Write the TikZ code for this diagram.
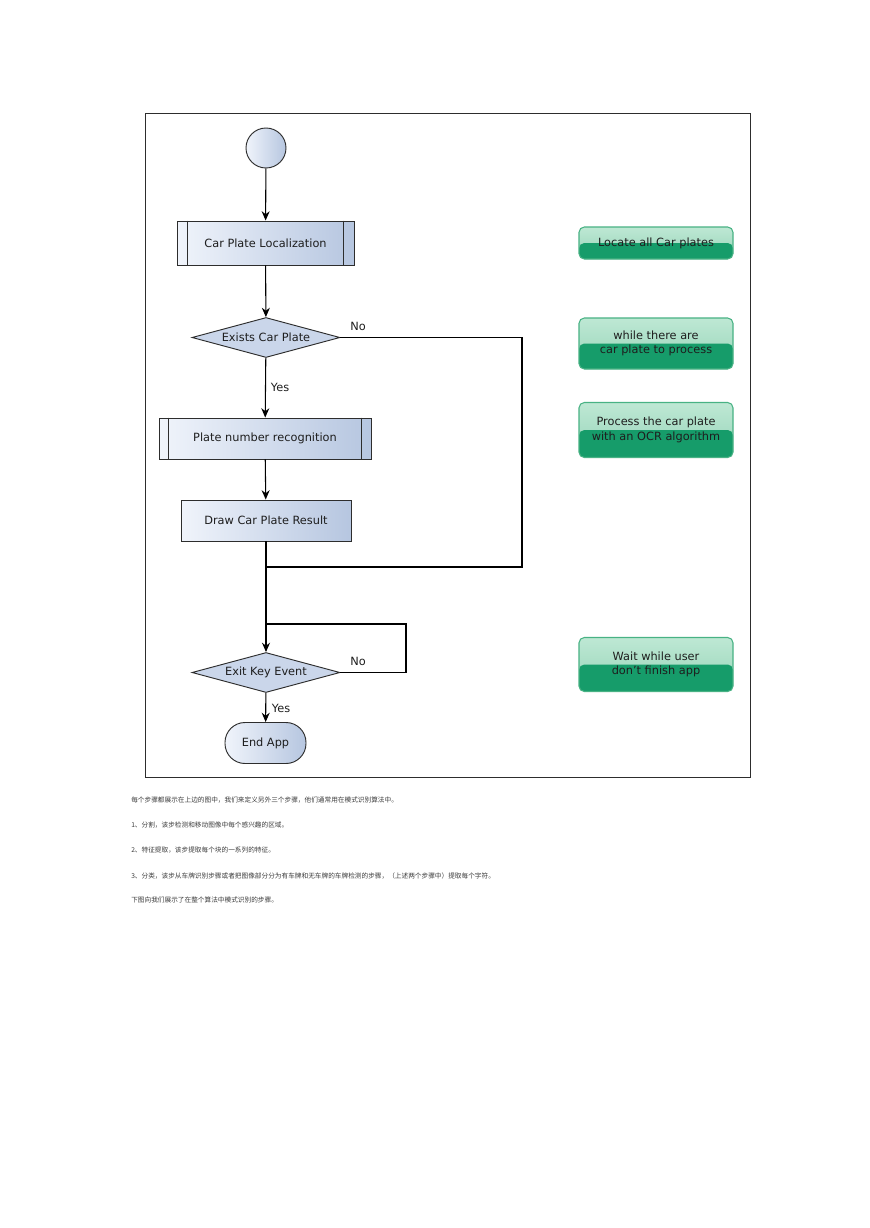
\documentclass[tikz,border=0pt]{standalone}
\usepackage{fontspec}
\setmainfont{DejaVu Sans}
\newfontfamily\cjk{Noto Sans CJK SC}
\usetikzlibrary{shapes.geometric,arrows.meta}
\definecolor{boxL}{RGB}{240,244,251}
\definecolor{boxR}{RGB}{182,198,224}
\definecolor{dia}{RGB}{202,214,234}
\definecolor{gTopL}{RGB}{190,232,212}
\definecolor{gTop}{RGB}{150,212,184}
\definecolor{gBot}{RGB}{22,156,106}
\definecolor{gBorder}{RGB}{72,178,132}
\definecolor{edge}{RGB}{45,45,45}
\definecolor{txt}{RGB}{30,30,30}
\definecolor{cjkgray}{RGB}{60,60,60}
\begin{document}
\begin{tikzpicture}[x=0.75pt,y=-0.75pt,
  lab/.style={font=\fontsize{8.5}{10}\selectfont, text=txt, inner sep=0pt},
  proc/.style={draw=edge, line width=0.7pt, left color=boxL, right color=boxR,
    inner sep=0pt, font=\fontsize{8.5}{10}\selectfont, text=txt},
  dec/.style={diamond, draw=edge, line width=0.7pt, fill=dia, inner sep=0pt, aspect=3,
    minimum width=111pt, minimum height=30pt, font=\fontsize{8.5}{10}\selectfont, text=txt},
  note/.style={draw=gBorder, line width=0.8pt, rounded corners=4pt, top color=gTopL, bottom color=gTop,
    minimum width=115.5pt, inner sep=0pt, align=center, text=txt,
    font=\fontsize{8.5}{11}\selectfont,
    path picture={\fill[gBot] (path picture bounding box.west) rectangle (path picture bounding box.south east);}},
  arr/.style={-{Stealth[length=7pt,width=6pt]}, line width=0.8pt, draw=black},
  ln/.style={line width=0.8pt, draw=black},
  cjkt/.style={anchor=west, inner sep=0pt, font=\cjk\fontsize{5}{6}\selectfont, text=cjkgray}]
\useasboundingbox (0,0) rectangle (869,1228);
\fill[white] (0,0) rectangle (869,1228);
\node[draw=edge, line width=0.7pt, minimum width=453.75pt, minimum height=498pt, inner sep=0pt] (frame) at (447.5,445) {};

% flow nodes
\node[circle, draw=edge, line width=0.7pt, left color=boxL, right color=boxR, minimum size=30pt, inner sep=0pt] (start) at (266,148) {};
\node[proc, minimum width=132.75pt, minimum height=33pt] (loc) at (265.5,243) {Car Plate Localization};
\draw[edge, line width=0.7pt] ([xshift=8.25pt]loc.north west) -- ([xshift=8.25pt]loc.south west);
\draw[edge, line width=0.7pt] ([xshift=-8.25pt]loc.north east) -- ([xshift=-8.25pt]loc.south east);
\node[dec] (exists) at (266,337.5) {Exists Car Plate};
\node[proc, minimum width=159pt, minimum height=30.75pt] (plate) at (265,438.5) {Plate number recognition};
\draw[edge, line width=0.7pt] ([xshift=7.5pt]plate.north west) -- ([xshift=7.5pt]plate.south west);
\draw[edge, line width=0.7pt] ([xshift=-7.5pt]plate.north east) -- ([xshift=-7.5pt]plate.south east);
\node[proc, minimum width=127.5pt, minimum height=30.75pt] (drawres) at (266,520.5) {Draw Car Plate Result};
\node[dec] (exitk) at (266,672.5) {Exit Key Event};
\node[proc, rounded corners=15pt, minimum width=60.75pt, minimum height=30.75pt] (endapp) at (265.5,743) {End App};

% coordinates for loops
\coordinate (c1) at (522,567);
\coordinate (j1) at (266,567);
\coordinate (c2) at (406,624);
\coordinate (j2) at (266,624);

% connectors
\draw[arr] (start) -- (loc);
\draw[arr] (loc) -- (exists);
\draw[arr] (exists) -- (plate);
\draw[arr] (plate) -- (drawres);
\draw[arr] (drawres) -- (exitk);
\draw[ln] (exists.east) -| (c1) -- (j1);
\draw[ln] (exitk.east) -| (c2) -- (j2);
\draw[arr] (exitk) -- (endapp);

% labels
\node[lab] (no1) at (358,326) {No};
\node[lab] (yes1) at (280,387) {Yes};
\node[lab] (no2) at (358,661) {No};
\node[lab] (yes2) at (281,708) {Yes};

% notes
\node[note, minimum height=24pt] (n1) at (656,243) {Locate all Car plates};
\node[note, minimum height=38.25pt] (n2) at (656,343.5) {while there are\\car plate to process};
\node[note, minimum height=41.25pt] (n3) at (656,430) {Process the car plate\\with an OCR algorithm};
\node[note, minimum height=40.5pt] (n4) at (656,664.5) {Wait while user\\don't finish app};

% chinese text
\node[cjkt] (t1) at (131,800) {每个步骤都展示在上边的图中，我们来定义另外三个步骤，他们通常用在模式识别算法中。};
\node[cjkt] (t2) at (131,825) {1、分割，该步检测和移动图像中每个感兴趣的区域。};
\node[cjkt] (t3) at (131,850) {2、特征提取，该步提取每个块的一系列的特征。};
\node[cjkt] (t4) at (131,876) {3、分类，该步从车牌识别步骤或者把图像部分分为有车牌和无车牌的车牌检测的步骤，（上述两个步骤中）提取每个字符。};
\node[cjkt] (t5) at (131,900) {下图向我们展示了在整个算法中模式识别的步骤。};
\end{tikzpicture}
\end{document}
